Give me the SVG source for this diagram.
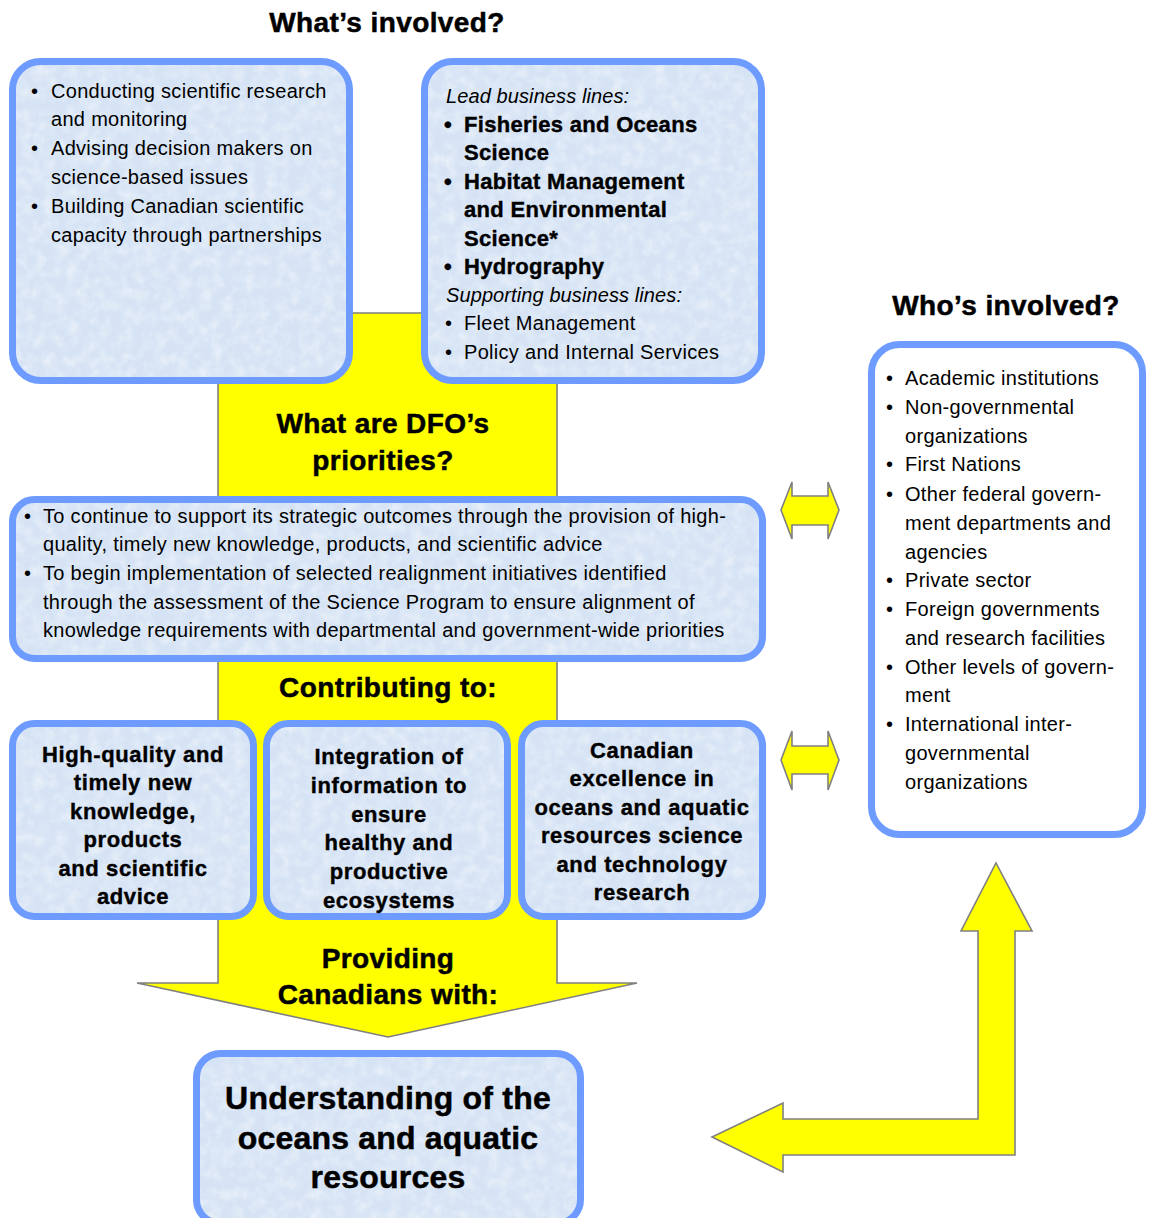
<svg xmlns="http://www.w3.org/2000/svg" width="1152" height="1218" viewBox="0 0 1152 1218">
<defs>
<filter id="tex" x="0" y="0" width="1" height="1">
<feTurbulence type="fractalNoise" baseFrequency="0.09" numOctaves="3" seed="4" result="n"/>
<feColorMatrix in="n" type="matrix" values="0 0 0 0 1  0 0 0 0 1  0 0 0 0 1  0 0 0 -0.8 0.5" result="w"/>
<feComposite in="w" in2="SourceGraphic" operator="in" result="wc"/>
<feMerge><feMergeNode in="SourceGraphic"/><feMergeNode in="wc"/></feMerge>
</filter>
<style>
.bx{fill:#d5e3f5;filter:url(#tex)}
.bs{fill:none;stroke:#6d9bff;stroke-width:7}
.yl{fill:#ffff00;stroke:#808080;stroke-width:1.6;stroke-linejoin:miter}
text{font-family:"Liberation Sans",Arial,sans-serif;fill:#000}
.t{font-size:20px;letter-spacing:0.3px}
.b{font-size:22px;font-weight:bold;letter-spacing:0.3px;stroke:#000;stroke-width:0.4}
.i{font-size:20px;font-style:italic;letter-spacing:0.1px}
.h{font-size:28px;font-weight:bold;letter-spacing:0.4px;stroke:#000;stroke-width:0.5}
.c{font-size:22px;font-weight:bold;text-anchor:middle;letter-spacing:0.6px;stroke:#000;stroke-width:0.4}
.u{font-size:32px;font-weight:bold;text-anchor:middle;letter-spacing:0.2px;stroke:#000;stroke-width:0.5}
.m{text-anchor:middle}
</style>
</defs>

<g id="connectors">
<polygon id="main-arrow" class="yl" points="218,313 557,313 557,983 637,983 388,1037 137,983 218,983"/>
<polygon id="double-arrow-1" class="yl" points="781,510 792,482 792,496 828,496 828,482 839,510 828,539 828,525 792,525 792,539"/>
<polygon id="double-arrow-2" class="yl" points="781,760 792,731 792,746 828,746 828,731 839,760 828,790 828,774 792,774 792,790"/>
<polygon id="l-arrow" class="yl" points="996,863 1032,931 1015,931 1015,1155 783,1155 783,1172 712,1137 783,1103 783,1119 978,1119 978,931 961,931"/>
</g>

<g id="title-whats">
<text class="h m" x="387" y="32">What’s involved?</text>
</g>

<g id="activities">
<rect class="bx" x="12.5" y="61.5" width="337" height="319" rx="28"/>
<rect class="bs" x="12.5" y="61.5" width="337" height="319" rx="28"/>
<text class="t" x="31" y="98">•</text><text class="t" x="51" y="98">Conducting scientific research</text>
<text class="t" x="51" y="126">and monitoring</text>
<text class="t" x="31" y="155">•</text><text class="t" x="51" y="155">Advising decision makers on</text>
<text class="t" x="51" y="184">science-based issues</text>
<text class="t" x="31" y="213">•</text><text class="t" x="51" y="213">Building Canadian scientific</text>
<text class="t" x="51" y="242">capacity through partnerships</text>
</g>

<g id="business-lines">
<rect class="bx" x="424.5" y="61.5" width="337" height="319" rx="28"/>
<rect class="bs" x="424.5" y="61.5" width="337" height="319" rx="28"/>
<text class="i" x="446" y="103">Lead business lines:</text>
<text class="b" x="444" y="132">•</text><text class="b" x="464" y="132">Fisheries and Oceans</text>
<text class="b" x="464" y="160">Science</text>
<text class="b" x="444" y="189">•</text><text class="b" x="464" y="189">Habitat Management</text>
<text class="b" x="464" y="217">and Environmental</text>
<text class="b" x="464" y="246">Science*</text>
<text class="b" x="444" y="274">•</text><text class="b" x="464" y="274">Hydrography</text>
<text class="i" x="446" y="302">Supporting business lines:</text>
<text class="t" x="445" y="330">•</text><text class="t" x="464" y="330">Fleet Management</text>
<text class="t" x="445" y="359">•</text><text class="t" x="464" y="359">Policy and Internal Services</text>
</g>

<g id="title-priorities">
<text class="h m" x="383" y="433">What are DFO’s</text>
<text class="h m" x="383" y="470">priorities?</text>
</g>

<g id="priorities">
<rect class="bx" x="12.5" y="499.5" width="750" height="159" rx="22"/>
<rect class="bs" x="12.5" y="499.5" width="750" height="159" rx="22"/>
<text class="t" x="24" y="523">•</text><text class="t" x="43" y="523">To continue to support its strategic outcomes through the provision of high-</text>
<text class="t" x="43" y="551">quality, timely new knowledge, products, and scientific advice</text>
<text class="t" x="24" y="580">•</text><text class="t" x="43" y="580">To begin implementation of selected realignment initiatives identified</text>
<text class="t" x="43" y="609">through the assessment of the Science Program to ensure alignment of</text>
<text class="t" x="43" y="637">knowledge requirements with departmental and government-wide priorities</text>
</g>

<g id="title-contributing">
<text class="h m" x="388" y="697">Contributing to:</text>
</g>

<g id="outcome-knowledge">
<rect class="bx" x="12.5" y="723.5" width="241" height="193" rx="22"/>
<rect class="bs" x="12.5" y="723.5" width="241" height="193" rx="22"/>
<text class="c" x="133" y="762">High-quality and</text>
<text class="c" x="133" y="790">timely new</text>
<text class="c" x="133" y="819">knowledge,</text>
<text class="c" x="133" y="847">products</text>
<text class="c" x="133" y="876">and scientific</text>
<text class="c" x="133" y="904">advice</text>
</g>

<g id="outcome-integration">
<rect class="bx" x="266.5" y="723.5" width="241" height="193" rx="22"/>
<rect class="bs" x="266.5" y="723.5" width="241" height="193" rx="22"/>
<text class="c" x="389" y="764">Integration of</text>
<text class="c" x="389" y="793">information to</text>
<text class="c" x="389" y="822">ensure</text>
<text class="c" x="389" y="850">healthy and</text>
<text class="c" x="389" y="879">productive</text>
<text class="c" x="389" y="908">ecosystems</text>
</g>

<g id="outcome-excellence">
<rect class="bx" x="521.5" y="723.5" width="241" height="193" rx="22"/>
<rect class="bs" x="521.5" y="723.5" width="241" height="193" rx="22"/>
<text class="c" x="642" y="758">Canadian</text>
<text class="c" x="642" y="786">excellence in</text>
<text class="c" x="642" y="815">oceans and aquatic</text>
<text class="c" x="642" y="843">resources science</text>
<text class="c" x="642" y="872">and technology</text>
<text class="c" x="642" y="900">research</text>
</g>

<g id="title-providing">
<text class="h m" x="388" y="968">Providing</text>
<text class="h m" x="388" y="1004">Canadians with:</text>
</g>

<g id="understanding">
<rect class="bx" x="196.5" y="1053.5" width="384" height="170" rx="24"/>
<rect class="bs" x="196.5" y="1053.5" width="384" height="170" rx="24"/>
<text class="u" x="388" y="1109">Understanding of the</text>
<text class="u" x="388" y="1149">oceans and aquatic</text>
<text class="u" x="388" y="1188">resources</text>
</g>

<g id="title-who">
<text class="h m" x="1006" y="315">Who’s involved?</text>
</g>

<g id="who-involved">
<rect x="871.5" y="344.5" width="271" height="490" rx="28" fill="#ffffff" stroke="#6d9bff" stroke-width="7"/>
<text class="t" x="886" y="385">•</text><text class="t" x="905" y="385">Academic institutions</text>
<text class="t" x="886" y="414">•</text><text class="t" x="905" y="414">Non-governmental</text>
<text class="t" x="905" y="443">organizations</text>
<text class="t" x="886" y="471">•</text><text class="t" x="905" y="471">First Nations</text>
<text class="t" x="886" y="501">•</text><text class="t" x="905" y="501">Other federal govern-</text>
<text class="t" x="905" y="530">ment departments and</text>
<text class="t" x="905" y="559">agencies</text>
<text class="t" x="886" y="587">•</text><text class="t" x="905" y="587">Private sector</text>
<text class="t" x="886" y="616">•</text><text class="t" x="905" y="616">Foreign governments</text>
<text class="t" x="905" y="645">and research facilities</text>
<text class="t" x="886" y="674">•</text><text class="t" x="905" y="674">Other levels of govern-</text>
<text class="t" x="905" y="702">ment</text>
<text class="t" x="886" y="731">•</text><text class="t" x="905" y="731">International inter-</text>
<text class="t" x="905" y="760">governmental</text>
<text class="t" x="905" y="789">organizations</text>
</g>
</svg>
